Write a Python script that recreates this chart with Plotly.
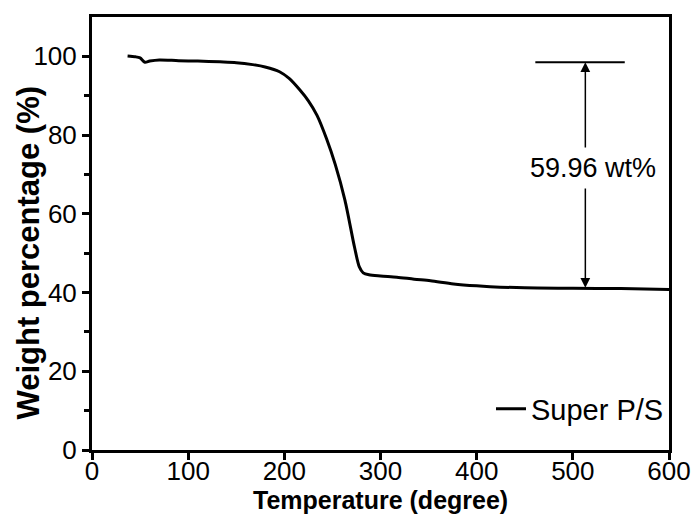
import plotly.graph_objects as go

# TGA data: temperature (degree) vs weight percentage (%)
temperature = [37, 45, 50, 55, 60, 70, 90, 110, 133, 150, 167, 180, 195, 205, 216, 225, 234, 244, 253, 263, 273, 278, 282, 288, 300, 317, 335, 352, 376, 400, 414, 450, 500, 550, 600]
weight = [100.1, 99.9, 99.6, 98.5, 98.8, 99.1, 98.9, 98.8, 98.6, 98.4, 97.9, 97.3, 96.1, 94.4, 91.5, 88.7, 85.0, 79.0, 72.5, 63.5, 51.5, 46.5, 45.0, 44.5, 44.2, 43.9, 43.4, 43.0, 42.2, 41.7, 41.5, 41.2, 41.1, 41.0, 40.8]

series_name = "Super P/S"
x_title = "Temperature (degree)"
y_title = "Weight percentage (%)"

# annotation values (data units)
loss_label = "59.96 wt%"
arrow_x = 513
level_top = 98.5
level_bottom = 41.2
label_y = 71.6
top_line_x0 = 461
top_line_x1 = 554

FONT = "Liberation Sans, Arial, sans-serif"

fig = go.Figure()
fig.add_trace(go.Scatter(
    x=temperature, y=weight, mode="lines", name=series_name,
    line=dict(color="black", width=3, shape="spline", smoothing=0.8),
))

# top reference line
fig.add_shape(type="line", xref="x", yref="y", x0=top_line_x0, x1=top_line_x1,
              y0=level_top, y1=level_top, line=dict(color="black", width=2))

# double arrow
for yy in (level_top, level_bottom):
    fig.add_annotation(x=arrow_x, y=yy, ax=arrow_x, ay=label_y, xref="x", yref="y",
                       axref="x", ayref="y", text="", showarrow=True,
                       arrowhead=2, arrowsize=1.3, arrowwidth=1.5, arrowcolor="black")

fig.add_annotation(x=arrow_x + 8, y=label_y, xref="x", yref="y", text=loss_label,
                   showarrow=False, bgcolor="white", borderpad=5,
                   font=dict(family=FONT, size=27, color="black"))

# axis titles (placed like the original: y title centred on the 0-100 span)
fig.add_annotation(x=0.5, y=-0.116, xref="paper", yref="paper", text=x_title,
                   showarrow=False, xanchor="center", yanchor="middle",
                   font=dict(family=FONT, size=25, color="black", weight="bold"))
fig.add_annotation(x=-0.11, y=0.455, xref="paper", yref="paper", text=y_title,
                   showarrow=False, textangle=-90, xanchor="center", yanchor="middle",
                   font=dict(family=FONT, size=31, color="black", weight="bold"))

axis_common = dict(
    showline=True, linecolor="black", linewidth=3, mirror=True,
    ticks="outside", ticklen=7, tickwidth=3, tickcolor="black",
    showgrid=False, zeroline=False, automargin=False,
    tickfont=dict(family=FONT, size=26, color="black"),
)

fig.update_xaxes(range=[0, 600], tickvals=[0, 100, 200, 300, 400, 500, 600],
                 ticklabelstandoff=-11, **axis_common)
fig.update_yaxes(range=[0, 110], tickvals=[0, 20, 40, 60, 80, 100],
                 minor=dict(tickvals=[10, 30, 50, 70, 90], ticks="outside", ticklen=5,
                            tickwidth=3, tickcolor="black"),
                 **axis_common)

fig.update_layout(
    width=697, height=520,
    margin=dict(l=92, r=28, t=17, b=70),
    plot_bgcolor="white", paper_bgcolor="white",
    showlegend=True,
    legend=dict(x=1, xanchor="right", y=0.095, yanchor="middle",
                bgcolor="rgba(0,0,0,0)",
                font=dict(family=FONT, size=29, color="black")),
)

fig.write_html("out.html", config={"displayModeBar": False},
               post_script="document.body.style.margin='0px';document.body.style.overflow='hidden';")
